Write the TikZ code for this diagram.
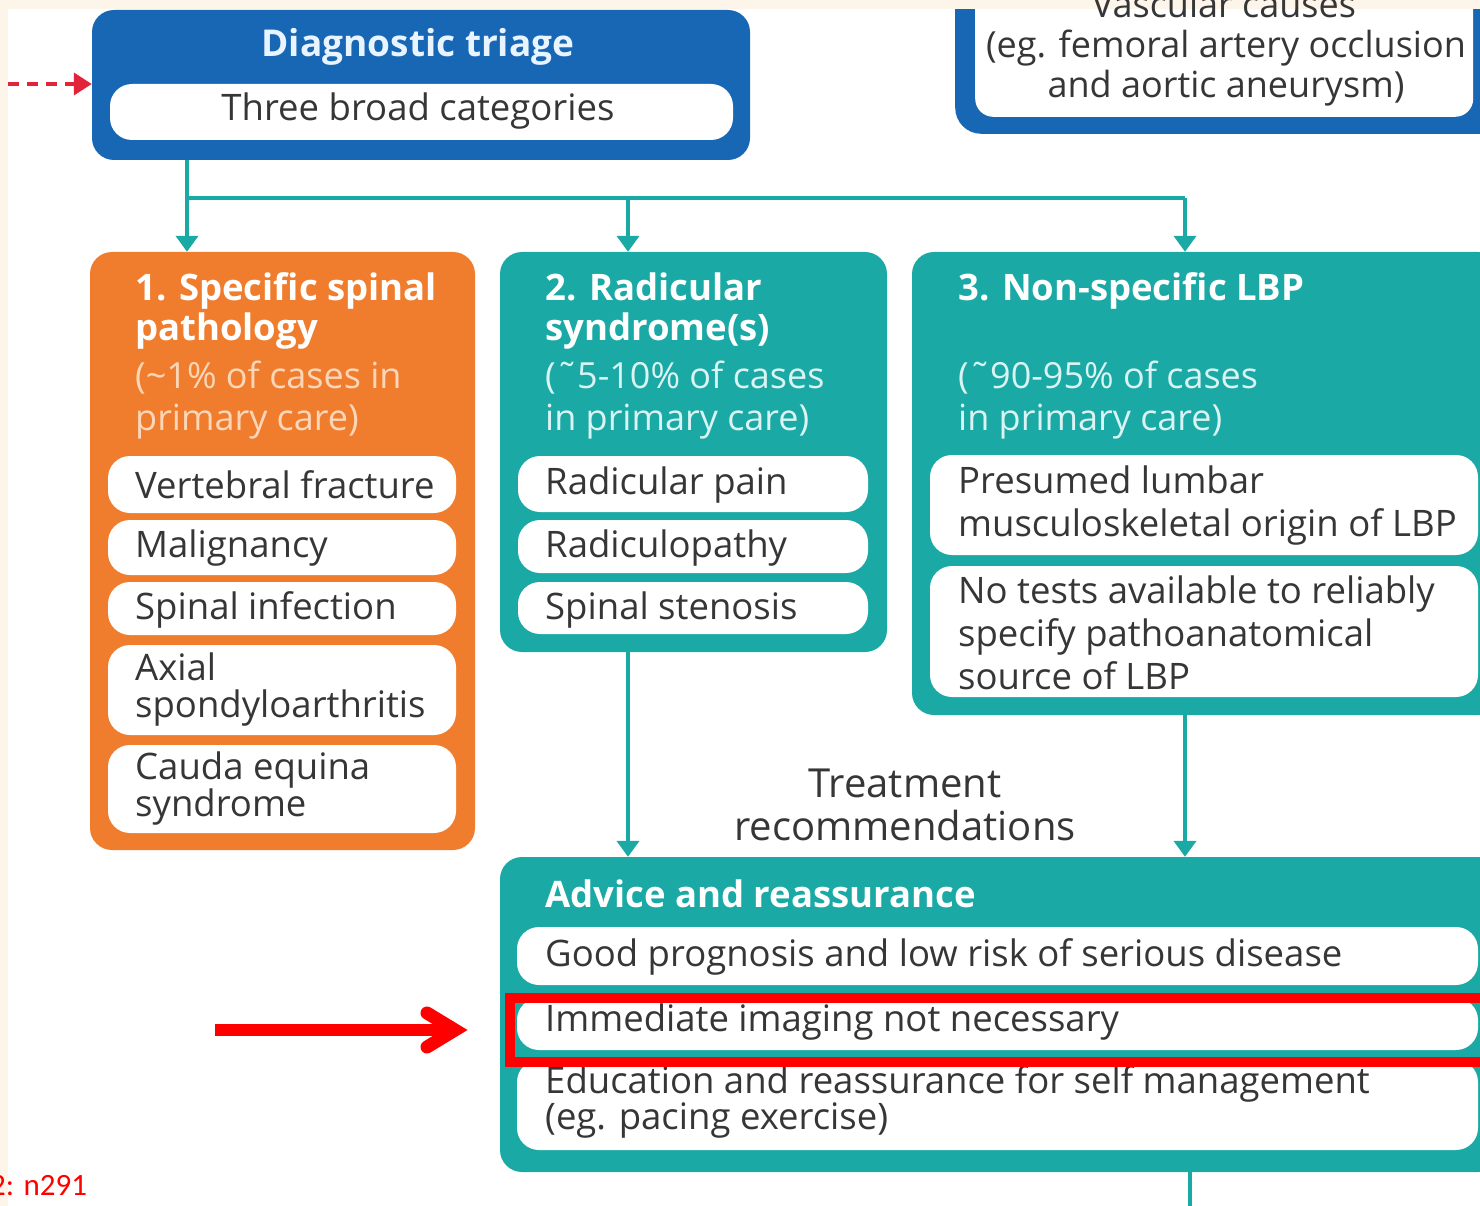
\documentclass[tikz,border=0pt]{standalone}
\usepackage{fontspec}
\setmainfont{Open Sans}
\newfontfamily\calibfont{Carlito}
\usetikzlibrary{arrows.meta}
\definecolor{tealc}{HTML}{1AA9A4}
\definecolor{bluec}{HTML}{1767B4}
\definecolor{orangec}{HTML}{F07D2D}
\definecolor{bodyc}{HTML}{363636}
\definecolor{creamc}{HTML}{FDF4EA}
\definecolor{subor}{HTML}{FCD6B8}
\definecolor{subte}{HTML}{D9F4F2}
\definecolor{redc}{HTML}{FF0000}
\definecolor{dashred}{HTML}{E2233A}
\definecolor{triagetitle}{HTML}{E8F4FF}
\newcommand{\myfs}[2]{\fontsize{#1}{#2}\selectfont}
\tikzset{
  bigbox/.style={rounded corners=22pt, inner sep=0pt},
  pill/.style={fill=white, rounded corners=22pt, inner sep=0pt},
  body/.style={text=bodyc, font=\myfs{36.5}{42}, align=left, inner sep=0pt, anchor=west},
  ttl/.style={text=white, font=\bfseries\myfs{36.5}{40}, align=left, inner sep=0pt, anchor=west},
  subor/.style={text=subor, font=\myfs{36}{42}, align=left, inner sep=0pt, anchor=west},
  subte/.style={text=subte, font=\myfs{36}{42}, align=left, inner sep=0pt, anchor=west},
  conn/.style={draw=tealc, line width=4pt},
  arrowdown/.style={-{Triangle[length=16pt,width=22pt]}},
}
\begin{document}
\begin{tikzpicture}[x=1pt,y=-1pt]
\useasboundingbox (0,0) rectangle (1480,1206);
\fill[creamc] (0,0) rectangle (1480,1206);
\fill[white] (8,9) rectangle (1480,1206);

% vascular box (top right, cut off)
\node[fill=bluec, rounded corners=26pt, minimum width=560pt, minimum height=220pt, anchor=south west, inner sep=0pt] (vasc) at (955,134) {};
\node[fill=white, rounded corners=18pt, minimum width=498pt, minimum height=200pt, anchor=south west, inner sep=0pt] (vin) at (975,117) {};
\fill[creamc] (0,0) rectangle (1480,9);
\node[text=bodyc, font=\myfs{36}{40}, inner sep=0pt] (vcause) at (1224,4) {Vascular causes};
\node[text=bodyc, font=\myfs{36}{40}, align=center, inner sep=0pt] (vtxt) at (1226,68) {(eg. femoral artery occlusion\\and aortic aneurysm)};

% diagnostic triage
\node[fill=bluec, bigbox, minimum width=658pt, minimum height=150pt] (tri) at (421,85) {};
\node[text=triagetitle, font=\bfseries\myfs{37}{40}, inner sep=0pt] (trit) at (418,47) {Diagnostic triage};
\node[pill, minimum width=623pt, minimum height=56pt] (trip) at (421.5,112) {};
\node[body, anchor=center] (tript) at (418,111) {Three broad categories};

% red dashed incoming arrow
\coordinate (dstart) at (8,84);
\draw[dashred, line width=4pt, dash pattern=on 11pt off 8pt, -{Triangle[length=18pt,width=22pt]}] (dstart) -- (tri.west |- dstart);

% box 1
\node[fill=orangec, bigbox, minimum width=385pt, minimum height=598pt] (b1) at (282.5,551) {};
\node[ttl] (b1t) at (135,311) {1. Specific spinal\\pathology};
\node[subor] (b1s) at (135,400) {(\textasciitilde1\% of cases in\\primary care)};
\node[pill, minimum width=348pt, minimum height=57pt] (p11) at (282,484.5) {};
\node[body] (t11) at (135,485) {Vertebral fracture};
\node[pill, minimum width=348pt, minimum height=55pt] (p12) at (282,547.5) {};
\node[body] (t12) at (135,548) {Malignancy};
\node[pill, minimum width=348pt, minimum height=53pt] (p13) at (282,608.5) {};
\node[body] (t13) at (135,610) {Spinal infection};
\node[pill, minimum width=348pt, minimum height=90pt] (p14) at (282,690) {};
\node[body, font=\myfs{36.5}{37}] (t14) at (135,690) {Axial\\spondyloarthritis};
\node[pill, minimum width=348pt, minimum height=88pt] (p15) at (282,789) {};
\node[body, font=\myfs{36.5}{37}] (t15) at (135,789) {Cauda equina\\syndrome};

% box 2
\node[fill=tealc, bigbox, minimum width=387pt, minimum height=400pt] (b2) at (693.5,452) {};
\node[ttl] (b2t) at (545,311) {2. Radicular\\syndrome(s)};
\node[subte] (b2s) at (545,400) {(˜5-10\% of cases\\in primary care)};
\node[pill, minimum width=350pt, minimum height=56pt] (p21) at (693,484) {};
\node[body] (t21) at (545,485) {Radicular pain};
\node[pill, minimum width=350pt, minimum height=53pt] (p22) at (693,546.5) {};
\node[body] (t22) at (545,548) {Radiculopathy};
\node[pill, minimum width=350pt, minimum height=52pt] (p23) at (693,608) {};
\node[body] (t23) at (545,610) {Spinal stenosis};

% box 3
\node[fill=tealc, bigbox, minimum width=588pt, minimum height=463pt] (b3) at (1206,483.5) {};
\node[ttl] (b3t) at (958,291) {3. Non-specific LBP};
\node[subte] (b3s) at (958,400) {(˜90-95\% of cases\\in primary care)};
\node[pill, minimum width=548pt, minimum height=100pt] (p31) at (1204,505) {};
\node[body, font=\myfs{36.5}{43}] (t31) at (958,506) {Presumed lumbar\\musculoskeletal origin of LBP};
\node[pill, minimum width=548pt, minimum height=131pt] (p32) at (1204,631.5) {};
\node[body, font=\myfs{36.5}{43}] (t32) at (958,633) {No tests available to reliably\\specify pathoanatomical\\source of LBP};

% advice box
\node[fill=tealc, bigbox, minimum width=1000pt, minimum height=315pt] (adv) at (1000,1014.5) {};
\node[ttl] (advt) at (545,894) {Advice and reassurance};
\node[pill, minimum width=961pt, minimum height=58pt] (p41) at (997.5,956) {};
\node[body] (t41) at (545,957) {Good prognosis and low risk of serious disease};
\node[pill, minimum width=961pt, minimum height=52pt] (p42) at (997.5,1024) {};
\node[body] (t42) at (545,1022) {Immediate imaging not necessary};
\node[pill, minimum width=961pt, minimum height=90pt] (p43) at (997.5,1105) {};
\node[body, font=\myfs{36.5}{35}] (t43) at (545,1102) {Education and reassurance for self management\\(eg. pacing exercise)};

% connectors
\coordinate (j1) at (187,198);
\coordinate (j2) at (628,198);
\coordinate (j3) at (1185,198);
\draw[conn] (tri.south -| j1) -- (j1) -- (j3);
\draw[conn, arrowdown] (j1) -- (j1 |- b1.north);
\draw[conn, arrowdown] (j2) -- (j2 |- b2.north);
\draw[conn, arrowdown] (j3) -- (j3 |- b3.north);
\draw[conn, arrowdown] (b2.south -| j2) -- (adv.north -| j2);
\draw[conn, arrowdown] (b3.south -| j3) -- (adv.north -| j3);
\coordinate (bot) at (1190,1215);
\draw[conn] (adv.south -| bot) -- (bot);

\node[body, anchor=center, align=center, font=\myfs{40}{43}] (treat) at (905,805) {Treatment\\recommendations};

% red highlight
\node[draw=redc, line width=10pt, minimum width=995pt, minimum height=64pt, anchor=north west, inner sep=0pt] (hl) at (505,993) {};
\coordinate (ra) at (215,1030);
\coordinate (rtip) at (455,1030);
\draw[redc, line width=12pt] (ra) -- (rtip);
\draw[redc, line width=13pt, line cap=round, line join=miter] (427,1013) -- (rtip) -- (427,1047);

\node[text=redc, font=\calibfont\myfs{31}{34}, anchor=base west, inner sep=0pt] (fig) at (-10,1195) {2: n291};
\end{tikzpicture}
\end{document}
